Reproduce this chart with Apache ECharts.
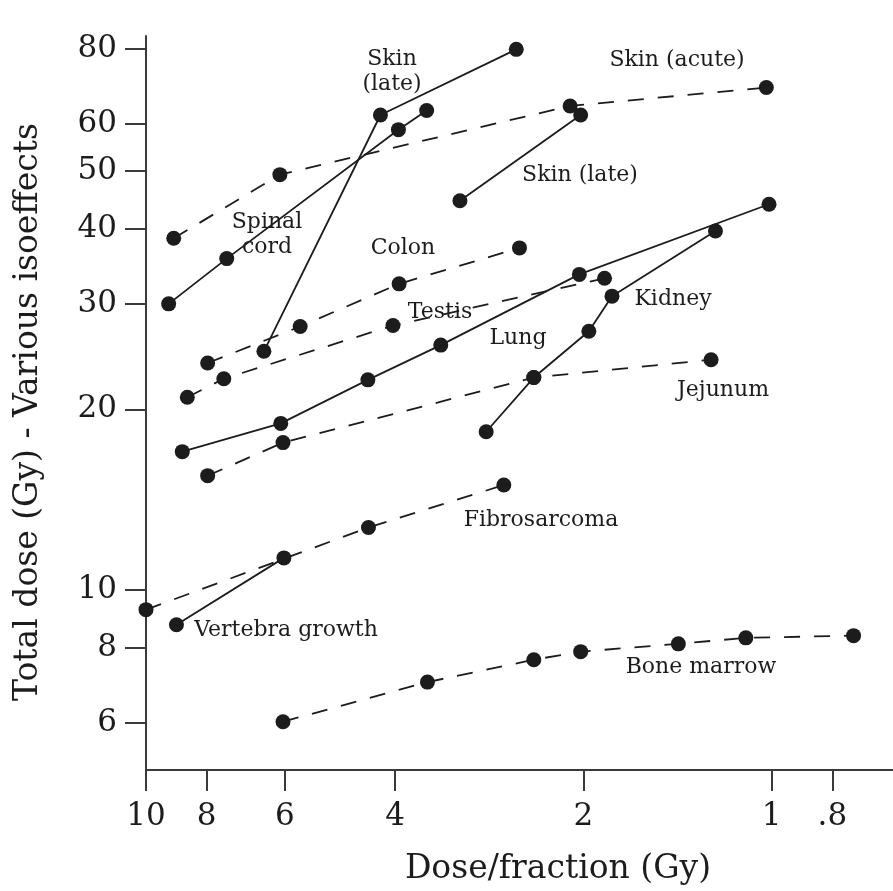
<!DOCTYPE html>
<html>
<head>
<meta charset="utf-8">
<script src="https://cdn.jsdelivr.net/npm/echarts@6/dist/echarts.min.js"></script>
<style>
  html, body { margin: 0; padding: 0; background: #fff; }
  #chart { width: 893px; height: 891px; }
</style>
</head>
<body>
<div id="chart"></div>
<script>
// dose per fraction (Gy) vs total dose (Gy)
const skinAcute = [[9.03, 38.6], [6.11, 49.3], [2.10, 64.2], [1.02, 68.9]]
const skinLateA = [[6.48, 25.0], [4.22, 62.0], [2.56, 79.8]]
const skinLateB = [[3.15, 44.6], [2.02, 62.0]]
const spinalCord = [[9.20, 30.0], [7.43, 35.7], [3.95, 58.6], [3.56, 63.1]]
const colon = [[7.97, 23.9], [5.67, 27.5], [3.94, 32.4], [2.53, 37.2]]
const testis = [[8.59, 20.95], [7.51, 22.5], [4.03, 27.6], [1.85, 33.1]]
const lung = [[8.75, 17.0], [6.09, 18.95], [4.42, 22.4], [3.38, 25.6], [2.03, 33.6], [1.01, 44.0]]
const kidney = [[2.86, 18.35], [2.40, 22.6], [1.96, 27.0], [1.80, 30.9], [1.23, 39.7]]
const jejunum = [[7.97, 15.5], [6.04, 17.6], [2.40, 22.6], [1.25, 24.2]]
const fibrosarcoma = [[10, 9.26], [4.41, 12.7], [2.68, 14.95]]
const vertebraGrowth = [[8.94, 8.74], [6.02, 11.3]]
const boneMarrow = [[6.04, 6.02], [3.55, 7.01], [2.40, 7.64], [2.02, 7.88], [1.41, 8.12], [1.10, 8.31], [0.74, 8.38]]

const xTicks = [10, 8, 6, 4, 2, 1, 0.8]
const yTicks = [6, 8, 10, 20, 30, 40, 50, 60, 80]

const chart = echarts.init(document.getElementById('chart'))

const FONT = 'DejaVu Serif'
const INK = '#1c1c1c'

const makeSeries = (name, data, dashed) => ({
  name: name,
  type: 'line',
  data: data,
  symbol: 'circle',
  symbolSize: 15,
  itemStyle: { color: INK },
  lineStyle: {
    color: INK,
    width: 1.8,
    type: dashed ? [16, 14] : 'solid'
  },
  emphasis: { disabled: true }
})

const label = (text, x, y) => ({
  type: 'text',
  x: x,
  y: y,
  style: {
    text: text,
    font: '22px "' + FONT + '"',
    fill: INK,
    textAlign: 'center',
    textVerticalAlign: 'middle',
    lineHeight: 25
  }
})

const option = {
  backgroundColor: '#fff',
  animation: false,
  grid: {
    left: 146,
    right: 0,
    top: 36,
    bottom: 121,
    containLabel: false,
    outerBoundsMode: 'none'
  },
  xAxis: {
    type: 'log',
    inverse: true,
    min: 0.64,
    max: 10,
    axisLine: { onZero: false, lineStyle: { color: '#3a3a3a', width: 2 } },
    axisTick: { show: true, inside: false, length: 21, customValues: xTicks, lineStyle: { color: '#3a3a3a', width: 2 } },
    axisLabel: {
      customValues: xTicks,
      margin: 31,
      fontFamily: FONT,
      fontSize: 31,
      color: INK,
      formatter: (v) => (v < 1 ? '.8' : String(v))
    },
    splitLine: { show: false },
    minorTick: { show: false }
  },
  yAxis: {
    type: 'log',
    min: 5,
    max: 84,
    axisLine: { show: true, onZero: false, lineStyle: { color: '#3a3a3a', width: 2 } },
    axisTick: { show: true, inside: false, length: 21, customValues: yTicks, lineStyle: { color: '#3a3a3a', width: 2 } },
    axisLabel: {
      customValues: yTicks,
      margin: 29,
      fontFamily: FONT,
      fontSize: 31,
      color: INK
    },
    splitLine: { show: false },
    minorTick: { show: false }
  },
  series: [
    makeSeries('Skin (acute)', skinAcute, true),
    makeSeries('Skin (late) A', skinLateA, false),
    makeSeries('Skin (late) B', skinLateB, false),
    makeSeries('Spinal cord', spinalCord, false),
    makeSeries('Colon', colon, true),
    makeSeries('Testis', testis, true),
    makeSeries('Lung', lung, false),
    makeSeries('Kidney', kidney, false),
    makeSeries('Jejunum', jejunum, true),
    makeSeries('Fibrosarcoma', fibrosarcoma, true),
    makeSeries('Vertebra growth', vertebraGrowth, false),
    makeSeries('Bone marrow', boneMarrow, true)
  ],
  graphic: [
    label('Skin\n(late)', 392, 72),
    label('Skin (acute)', 677, 60),
    label('Skin (late)', 580, 175),
    label('Spinal\ncord', 267, 235),
    label('Colon', 403, 248),
    label('Testis', 440, 312),
    label('Lung', 518, 338),
    label('Kidney', 673, 299),
    label('Jejunum', 723, 390),
    label('Fibrosarcoma', 541, 520),
    label('Vertebra growth', 286, 630),
    label('Bone marrow', 701, 667),
    {
      type: 'text',
      x: 558,
      y: 869,
      style: {
        text: 'Dose/fraction (Gy)',
        font: '33px "' + FONT + '"',
        fill: INK,
        textAlign: 'center',
        textVerticalAlign: 'middle'
      }
    },
    {
      type: 'text',
      x: 28,
      y: 412,
      rotation: Math.PI / 2,
      style: {
        text: 'Total dose (Gy) - Various isoeffects',
        font: '33px "' + FONT + '"',
        fill: INK,
        textAlign: 'center',
        textVerticalAlign: 'middle'
      }
    }
  ]
}

chart.setOption(option)
</script>
</body>
</html>
